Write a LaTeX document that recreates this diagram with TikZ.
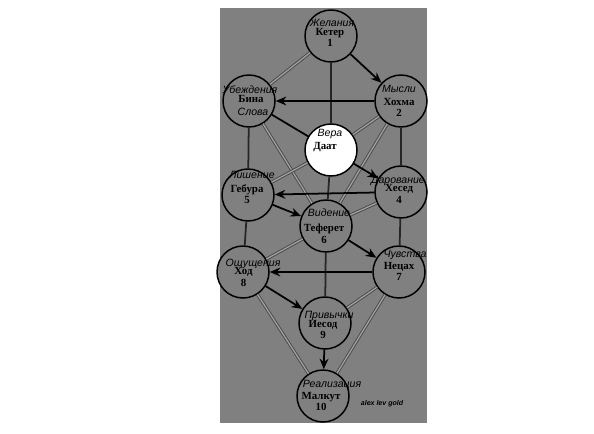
\documentclass[tikz,border=0pt]{standalone}
\usepackage{fontspec}
\setmainfont{Liberation Serif}
\newfontfamily\lblfont{Liberation Sans}
\usepackage{xcolor}
\usepackage{tikz}
\usetikzlibrary{arrows.meta}

\definecolor{panelgray}{RGB}{128,128,128}
\definecolor{ribedge}{RGB}{70,70,70}
\definecolor{ribcore}{RGB}{160,160,160}
\definecolor{pillarcol}{RGB}{38,38,38}

\begin{document}
\begin{tikzpicture}[
    x=0.02cm, y=-0.02cm,
    >={Stealth[length=6pt, width=5pt]},
    sefira/.style={circle, draw, line width=0.85pt, fill=panelgray,
                   minimum size=1.04cm, inner sep=0pt},
    sefname/.style={align=center, inner sep=0pt,
                    font=\fontsize{6.2}{6.6}\selectfont\bfseries},
    quality/.style={inner sep=0pt, font=\lblfont\itshape\fontsize{6}{6.5}\selectfont},
    signature/.style={inner sep=0pt, font=\lblfont\itshape\bfseries\fontsize{4}{5}\selectfont},
    arr/.style={->, line width=1pt},
    pillar/.style={draw=pillarcol, line width=1pt},
    rib/.style={draw=ribedge, double=ribcore, line width=0.5pt, double distance=0.75pt}
]
\useasboundingbox (0,0) rectangle (594,433);
\fill[panelgray] (220,8) rectangle (427,423);

% circles
\node[sefira] (keter)   at (331,36)  {};
\node[sefira] (hokhma)  at (401,101) {};
\node[sefira] (bina)    at (249,101) {};
\node[sefira, fill=white] (daat) at (331,150) {};
\node[sefira] (hesed)   at (401,192) {};
\node[sefira] (gevura)  at (248,195) {};
\node[sefira] (tiferet) at (326,226) {};
\node[sefira] (netsah)  at (399,272) {};
\node[sefira] (hod)     at (243,272) {};
\node[sefira] (yesod)   at (325,323) {};
\node[sefira] (malkut)  at (323,396) {};

% connections
\draw[rib] (keter) -- (bina);
\draw[rib] (hokhma) -- (daat);
\draw[rib] (hokhma) -- (tiferet);
\draw[rib] (bina) -- (tiferet);
\draw[rib] (daat) -- (gevura);
\draw[rib] (hesed) -- (tiferet);
\draw[rib] (tiferet) -- (hod);
\draw[rib] (netsah) -- (yesod);
\draw[rib] (hod) -- (malkut);
\draw[rib] (netsah) -- (malkut);

\draw[pillar] (keter) -- (daat);
\draw[pillar] (daat) -- (tiferet);
\draw[pillar] (tiferet) -- (yesod);
\draw[pillar] (bina) -- (gevura);
\draw[pillar] (gevura) -- (hod);
\draw[pillar] (hokhma) -- (hesed);
\draw[pillar] (hesed) -- (netsah);
\draw[pillar, draw=black] (bina) -- (daat);

\draw[arr] (keter) -- (hokhma);
\draw[arr] (hokhma) -- (bina);
\draw[arr] (daat) -- (hesed);
\draw[arr] (hesed) -- (gevura);
\draw[arr] (gevura) -- (tiferet);
\draw[arr] (tiferet) -- (netsah);
\draw[arr] (netsah) -- (hod);
\draw[arr] (hod) -- (yesod);
\draw[arr] (yesod) -- (malkut);

% names and numbers
\node[sefname] (keter-t)   at (330,37.5)  {Кетер\\1};
\node[sefname] (hokhma-t)  at (399,107.5) {Хохма\\2};
\node[sefname] (bina-t)    at (251,99)    {Бина};
\node[sefname] (daat-t)    at (325,147)   {Даат};
\node[sefname] (hesed-t)   at (399,194)   {Хесед\\4};
\node[sefname] (gevura-t)  at (247,194)   {Гебура\\5};
\node[sefname] (tiferet-t) at (324,234)   {Теферет\\6};
\node[sefname] (netsah-t)  at (399,271.5) {Нецах\\7};
\node[sefname] (hod-t)     at (243.5,277) {Ход\\8};
\node[sefname] (yesod-t)   at (323,329.5) {Иесод\\9};
\node[sefname] (malkut-t)  at (321,401.5) {Малкут\\10};

% qualities
\node[quality] (keter-q)   at (332,23)    {Желания};
\node[quality] (bina-q)    at (250,89.5)  {Убеждения};
\node[quality] (bina-w)    at (253,112)   {Слова};
\node[quality] (hokhma-q)  at (399,89)    {Мысли};
\node[quality] (daat-q)    at (330,134)   {Вера};
\node[quality] (gevura-q)  at (252,175)   {Лишение};
\node[quality] (hesed-q)   at (398,181)   {Дарование};
\node[quality] (tiferet-q) at (329,213)   {Видение};
\node[quality] (hod-q)     at (253,264)   {Ощущения};
\node[quality] (netsah-q)  at (405,255)   {Чувства};
\node[quality] (yesod-q)   at (329,316)   {Привычки};
\node[quality] (malkut-q)  at (332,385)   {Реализация};

\node[signature] (sign) at (382,404) {alex lev gold};
\end{tikzpicture}
\end{document}
